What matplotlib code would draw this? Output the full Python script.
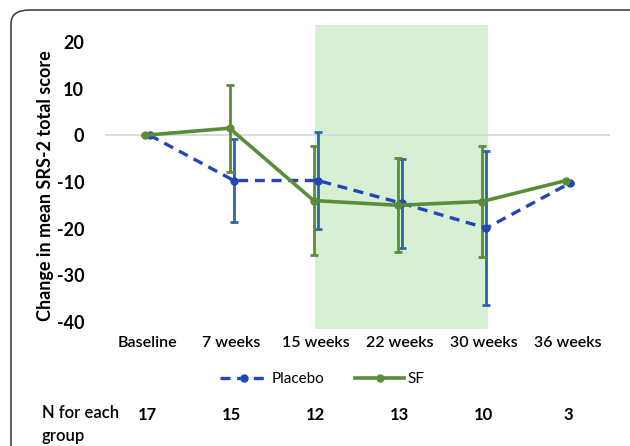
import numpy as np
import matplotlib.pyplot as plt
from matplotlib.patches import FancyBboxPatch, Rectangle
import matplotlib.transforms as mtransforms

plt.rcParams['font.family'] = ['Lato', 'DejaVu Sans']

categories = ["Baseline", "7 weeks", "15 weeks", "22 weeks", "30 weeks", "36 weeks"]
placebo_mean = [0, -9.7, -9.7, -14.6, -19.9, -10.2]
placebo_err = [0, 8.8, 10.4, 9.5, 16.5, 0]
sf_mean = [0, 1.5, -14.0, -15.0, -14.2, -9.7]
sf_err = [0, 9.3, 11.7, 10.1, 11.9, 0]
n_per_group = [17, 15, 12, 13, 10, 3]

green = "#5b8c3a"
blue_line = "#2346b8"
blue_err = "#2f65a8"

fig = plt.figure(figsize=(6.3, 4.46), dpi=100)
W, H = 630, 446
ax = fig.add_axes([105 / W, 1 - 329 / H, (610 - 105) / W, (329 - 25) / H])

x = np.arange(len(categories))

# shaded treatment window
ax.add_patch(Rectangle((2.0, -41.5), 2.05, 65.1, facecolor="#d7efd3",
                       edgecolor="none", zorder=0))
ax.axhline(0, color="#d9d9d9", lw=1.3, zorder=1)

ax.errorbar(x + 0.03, placebo_mean, yerr=placebo_err, fmt="none",
            ecolor=blue_err, elinewidth=2.0, capsize=3, capthick=2.0, zorder=3)
ax.errorbar(x - 0.02, sf_mean, yerr=sf_err, fmt="none",
            ecolor=green, elinewidth=2.0, capsize=3, capthick=2.0, zorder=4)
ax.plot(x + 0.03, placebo_mean, color=blue_line, lw=2.4, ls=(0, (3, 2)),
        marker="o", ms=5, zorder=5, label="Placebo")
ax.plot(x - 0.02, sf_mean, color=green, lw=2.6, marker="o", ms=5,
        zorder=6, label="SF")

ax.set_xlim(-0.5, 5.5)
ax.set_ylim(-41.5, 23.6)
ax.set_yticks([20, 10, 0, -10, -20, -30, -40])
ax.set_yticklabels(["20", "10", "0", "-10", "-20", "-30", "-40"],
                   fontsize=13, fontweight="bold")
ax.set_xticks(x)
ax.set_xticklabels(categories, fontsize=11.5, fontweight="semibold")
ax.tick_params(length=0, axis="y", pad=15)
ax.tick_params(length=0, axis="x", pad=5)
for s in ax.spines.values():
    s.set_visible(False)
ax.set_ylabel("Change in mean SRS-2 total score", fontsize=13,
              fontweight="bold")
ax.yaxis.set_label_coords(-0.10, 0.47)

fig.legend(loc="center", bbox_to_anchor=(322 / W, 1 - 379 / H), ncol=2,
           frameon=False, fontsize=11, handlelength=3.2, columnspacing=2.0,
           handletextpad=0.2)

# sample size row
trans = mtransforms.blended_transform_factory(ax.transData, fig.transFigure)
fig.text(42 / W, 1 - 413 / H, "N for each", fontsize=12, fontweight="semibold",
         va="center", ha="left")
fig.text(42 / W, 1 - 436 / H, "group", fontsize=12, fontweight="semibold",
         va="center", ha="left")
for i, n in enumerate(n_per_group):
    fig.text(i, 1 - 415 / H, str(n), transform=trans, fontsize=12,
             fontweight="bold", ha="center", va="center")

# outer rounded frame
frame = FancyBboxPatch((11 / W, -0.2), 640 / W, 1.2 - 10 / H,
                       boxstyle="round,pad=0,rounding_size=0.03",
                       transform=fig.transFigure, facecolor="none",
                       edgecolor="#444444", lw=1.2, clip_on=False)
fig.patches.append(frame)

fig.savefig("out.png", dpi=100)
